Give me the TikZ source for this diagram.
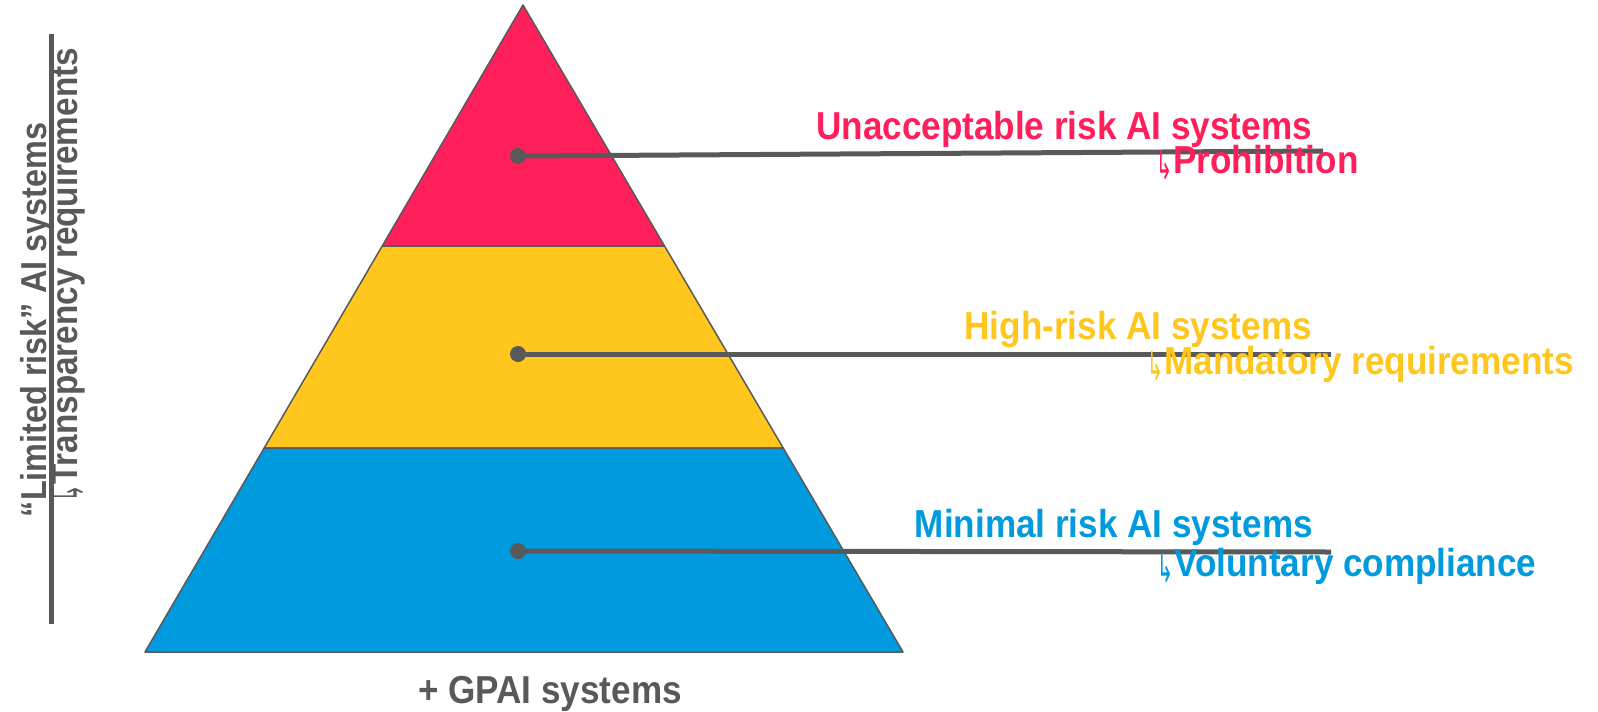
\documentclass[tikz,border=0pt]{standalone}
\usepackage{fontspec}
\usepackage{graphicx}
\setmainfont[FakeStretch=0.9]{Liberation Sans}
\newfontfamily\arrowfont{DejaVu Sans}
\usetikzlibrary{calc}
\definecolor{riskred}{HTML}{FF1F5B}
\definecolor{riskyellow}{HTML}{FFC61E}
\definecolor{riskblue}{HTML}{009ADE}
\definecolor{edgegray}{HTML}{595959}
\newcommand{\hookarrow}{\raisebox{-6pt}{\arrowfont\mdseries\fontsize{40}{44}\selectfont\scalebox{0.48}[1]{↳}}\kern1pt}

\begin{document}
\begin{tikzpicture}[x=1pt, y=-1pt, line join=round,
  band/.style={draw=edgegray, line width=1.5pt},
  dot/.style={circle, fill=edgegray, inner sep=0pt, minimum size=16pt},
  leader/.style={draw=edgegray, line width=5pt},
  tiertext/.style={inner sep=0pt, font=\bfseries\fontsize{39}{45}\selectfont},
  sidetext/.style={inner sep=0pt, rotate=90, text=edgegray, font=\bfseries\fontsize{36}{42}\selectfont}]
\useasboundingbox (0,0) rectangle (1598,712);

% pyramid
\coordinate (apex) at (523,5);
\coordinate (bl) at (145,652);
\coordinate (br) at (903,652);
\coordinate (ml1) at ($(apex)!0.3725!(bl)$);
\coordinate (mr1) at ($(apex)!0.3725!(br)$);
\coordinate (ml2) at ($(apex)!0.6847!(bl)$);
\coordinate (mr2) at ($(apex)!0.6847!(br)$);
\path[band, fill=riskred] (apex) -- (ml1) -- (mr1) -- cycle;
\path[band, fill=riskyellow] (ml1) -- (ml2) -- (mr2) -- (mr1) -- cycle;
\path[band, fill=riskblue] (ml2) -- (bl) -- (br) -- (mr2) -- cycle;

% leaders
\node[dot] (d1) at (518,156) {};
\node[dot] (d2) at (518,354) {};
\node[dot] (d3) at (518,551) {};
\coordinate (e1) at (1323,151);
\coordinate (e2) at (1331,354);
\coordinate (e3) at (1331,552);
\draw[leader] (d1.center) -- (e1);
\draw[leader] (d2.center) -- (e2);
\draw[leader] (d3.center) -- (e3);

% tier labels
\node[tiertext, text=riskred, anchor=base east] (t1) at (1312,139) {Unacceptable risk AI systems};
\node[tiertext, text=riskred, anchor=base west] (o1) at (1156,173) {\hookarrow Prohibition};
\node[tiertext, text=riskyellow, anchor=base east] (t2) at (1312,339) {High-risk AI systems};
\node[tiertext, text=riskyellow, anchor=base west] (o2) at (1147,374) {\hookarrow Mandatory requirements};
\node[tiertext, text=riskblue, anchor=base east] (t3) at (1313,537) {Minimal risk AI systems};
\node[tiertext, text=riskblue, anchor=base west] (o3) at (1157,576) {\hookarrow Voluntary compliance};

% limited risk side
\coordinate (bartop) at (51,34);
\coordinate (barbot) at (51,624);
\draw[leader] (bartop) -- (barbot);
\node[sidetext, anchor=base] (s1) at (46,320) {“Limited risk” AI systems};
\node[sidetext, anchor=base west, font=\bfseries\fontsize{37}{42}\selectfont] (s2) at (77,502) {\hookarrow Transparency requirements};

% general purpose
\node[tiertext, text=edgegray, anchor=base] (gp) at (550,703) {+ GPAI systems};
\end{tikzpicture}
\end{document}
